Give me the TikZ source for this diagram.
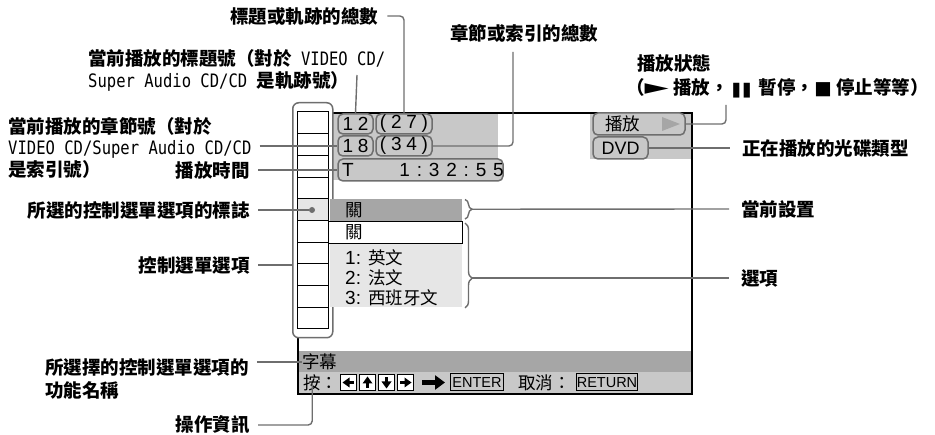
\documentclass[tikz,border=0pt]{standalone}
\usepackage{fontspec}
\setmainfont{Liberation Sans}
\newfontfamily\cjk{Noto Sans CJK TC}
\newfontfamily\lat[FakeStretch=0.84]{DejaVu Sans Mono}
\newfontfamily\sym{DejaVu Sans}
\newfontfamily\scrnum[LetterSpace=25]{Liberation Sans}
\newfontfamily\scrtime[LetterSpace=36]{Liberation Sans}
\usetikzlibrary{arrows.meta,calc,decorations.pathreplacing}

\definecolor{lead}{HTML}{6E6E6E}
\definecolor{pane}{HTML}{C8C8C8}
\definecolor{bar}{HTML}{A6A6A6}
\definecolor{opt}{HTML}{E6E6E6}

\newcommand\latin[1]{{\lat\mdseries #1}}
\newcommand\optln[2]{#1: {\cjk\fontsize{17.5}{20}\selectfont #2}}

\begin{document}
\begin{tikzpicture}[
  x=1pt, y=-1pt,
  lbl/.style={font=\cjk\bfseries\fontsize{18.5}{22}\selectfont, inner sep=0pt, align=left},
  scrtxt/.style={font=\cjk\fontsize{17.5}{20}\selectfont, inner sep=0pt},
  numbox/.style={draw=lead, line width=1.5pt, rounded corners=5pt, fill=pane, inner sep=0pt,
                 minimum height=20pt, font=\scrnum\fontsize{19}{20}\selectfont},
  leader/.style={lead, line width=1.4pt},
  keybox/.style={draw, line width=1pt, fill=white, minimum size=16pt, inner sep=0pt},
  btn/.style={draw, line width=1pt, minimum height=17pt, inner sep=0pt, font=\fontsize{14.5}{15}\selectfont},
]
  \useasboundingbox (0,0) rectangle (935,435);

  % ===================== SCREEN =====================
  \fill[pane] (332,112) rectangle (498,180);
  \fill[pane] (590,112) rectangle (691,159);
  \fill[bar]  (297,351) rectangle (691,372);
  \fill[pane] (297,372) rectangle (691,393);
  \node[draw, line width=1.6pt, minimum width=394pt, minimum height=281pt, inner sep=0pt,
        anchor=north west] (scr) at (297,112) {};

  % menu column
  \node[draw=lead, line width=1.5pt, rounded corners=6pt, fill=white, inner sep=0pt,
        minimum width=40pt, minimum height=235pt, anchor=north west] (colframe) at (292,102) {};
  \fill[opt] (297.5,198.8) rectangle (328,220.5);
  \draw[line width=1pt] (297.5,112) rectangle (328,329);
  \foreach \r in {1,...,9}
    \draw[line width=1pt] (297.5,{112+21.7*\r}) -- (328,{112+21.7*\r});
  \node[circle, fill=lead, inner sep=0pt, minimum size=6pt] (selmark) at (312,210) {};

  % disc info
  \node[numbox, minimum width=35pt] (n12) at (355.5,124) {12};
  \node[numbox, minimum width=56pt] (n27) at (404,124) {(27)};
  \node[numbox, minimum width=35pt] (n18) at (355.5,146) {18};
  \node[numbox, minimum width=56pt] (n34) at (404,146) {(34)};
  \node[numbox, minimum width=165pt, minimum height=22pt] (time) at (420.5,170) {};
  \node[inner sep=0pt, anchor=west, font=\fontsize{19}{20}\selectfont] (timeT) at (342,170) {T};
  \node[inner sep=0pt, anchor=east, font=\scrtime\fontsize{19}{20}\selectfont] (timeval) at (504,170) {1:32:55};

  \node[numbox, minimum width=92pt, minimum height=22pt] (play) at (639,124) {};
  \node[scrtxt, anchor=west] (playtxt) at (605,124) {播放};
  \fill[black!35] (662,117) -- (680,124) -- (662,131) -- cycle;
  \node[numbox, minimum width=55pt, minimum height=22pt, font=\fontsize{18}{20}\selectfont] (dvd) at (620.5,148) {DVD};

  % setting menu
  \node[fill=bar, minimum width=132pt, minimum height=22pt, inner sep=0pt, anchor=north west] (curbar) at (330,199) {};
  \node[scrtxt, anchor=west] (curval) at (345,210) {關};
  \node[draw, line width=1pt, fill=white, minimum width=134pt, minimum height=22.5pt, inner sep=0pt,
        anchor=north west] (offitem) at (328,221) {};
  \node[scrtxt, anchor=west] (offtxt) at (345,232.5) {關};
  \fill[opt] (330,244) rectangle (462,307);
  \node[inner sep=0pt, anchor=north west, align=left, font=\fontsize{19}{20}\selectfont] (opts) at (345,249)
    {\optln{1}{英文}\\\optln{2}{法文}\\\optln{3}{西班牙文}};

  \draw[leader, decorate, decoration={brace, amplitude=7pt}] (465,199.5) -- (465,219);
  \draw[leader, decorate, decoration={brace, amplitude=7pt, aspect=0.65}] (465,223) -- (465,308);
  \coordinate (curtip) at (472,209.25);
  \coordinate (opttip) at (472,278);

  % bottom bars
  \node[scrtxt, anchor=west] (subt) at (302,362) {字幕};
  \node[scrtxt, anchor=west] (press) at (303,383) {按：};
  \foreach \i/\ang in {0/180,1/90,2/270,3/0} {
    \node[keybox] (key\i) at ({348.5+19*\i},382.5) {};
    \begin{scope}[shift={(key\i)}, rotate=\ang]
      \fill (-5.5,-1.6) rectangle (0,1.6);
      \fill (-1,-5) -- (6,0) -- (-1,5) -- cycle;
    \end{scope}
  }
  \node[btn, minimum width=53pt, anchor=west] (enter) at (450,382.5) {ENTER};
  \draw[line width=4.5pt, -{Triangle[length=10pt, width=14pt]}]
    ([xshift=8pt]key3.east) -- ([xshift=-5pt]enter.west);
  \node[scrtxt, anchor=west] (cancel) at (518,383) {取消：};
  \node[btn, minimum width=61pt, anchor=west] (ret) at (576,382.5) {RETURN};

  % ===================== LABELS =====================
  \node[lbl, anchor=west] (L1) at (230,16) {標題或軌跡的總數};
  \node[lbl, anchor=north west] (L2) at (88,49)
    {當前播放的標題號（對於\latin{\ VIDEO CD/}\\\latin{Super Audio CD/CD }是軌跡號）};
  \coordinate (L2foot) at (357,75);
  \node[lbl, anchor=north west] (L3) at (450,24) {章節或索引的總數};
  \coordinate (L3foot) at (513,52);
  \node[lbl, anchor=north west, font=\cjk\bfseries\fontsize{18.5}{24}\selectfont] (L4) at (626,54)
    {\hspace*{11pt}播放狀態\\（{\sym\mdseries\scalebox{1.7}[1.15]{►}} 播放，{\sym\mdseries\scalebox{1}[0.8]{❚\kern-5pt❚}} 暫停，{\sym\mdseries ■} 停止等等）};
  \coordinate (L4foot) at (726,105);
  \node[lbl, anchor=west] (L5) at (742,148) {正在播放的光碟類型};

  \node[lbl, anchor=north west, font=\cjk\bfseries\fontsize{18.5}{21.5}\selectfont] (L6) at (8,117)
    {當前播放的章節號（對於\\\latin{VIDEO CD/Super Audio CD/CD}\\是索引號）};
  \node[lbl, anchor=east] (L7) at (250,170) {播放時間};
  \node[lbl, anchor=east] (L8) at (250,210) {所選的控制選單選項的標誌};
  \node[lbl, anchor=east] (L9) at (250,265) {控制選單選項};
  \node[lbl, anchor=north west, font=\cjk\bfseries\fontsize{18.5}{23}\selectfont] (L10) at (45,358)
    {所選擇的控制選單選項的\\功能名稱};
  \node[lbl, anchor=east] (L11) at (250,425) {操作資訊};
  \node[lbl, anchor=west] (L12) at (741,209) {當前設置};
  \node[lbl, anchor=west] (L13) at (741,278) {選項};

  % leaders
  \draw[leader, rounded corners=4pt] ([xshift=9pt]L1.east) -| (n27.north);
  \draw[leader] (L2foot) -- (n12.north);
  \draw[leader, rounded corners=4pt] (L3foot) |- (n34.east);
  \draw[leader, rounded corners=4pt] (L4foot) |- (play.east);
  \draw[leader] (dvd.east) -- ([xshift=-12pt]L5.west);
  \draw[leader] ([xshift=8pt]L6.east |- n18.west) -- (n18.west);
  \draw[leader] ([xshift=8pt]L7.east) -- (time.west);
  \draw[leader] ([xshift=8pt]L8.east) -- (selmark);
  \draw[leader] ([xshift=8pt]L9.east) -- (L9.east -| colframe.west);
  \draw[leader] ([xshift=8pt]L10.east |- subt.west) -- (subt.west);
  \draw[leader, rounded corners=4pt] ([xshift=8pt]L11.east) -| ([xshift=-8.5pt]press.center);
  \draw[leader] (curtip) -- ([xshift=-12pt]L12.west);
  \draw[leader] (opttip) -- ([xshift=-12pt]L13.west);
\end{tikzpicture}
\end{document}
